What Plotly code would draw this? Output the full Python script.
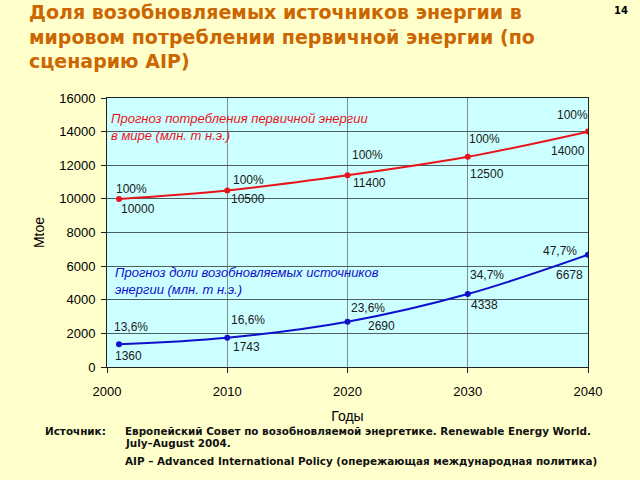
import plotly.graph_objects as go

years = [2001, 2010, 2020, 2030, 2040]
total = [10000, 10500, 11400, 12500, 14000]
renew = [1360, 1743, 2690, 4338, 6678]
total_pct = ["100%", "100%", "100%", "100%", "100%"]
renew_pct = ["13,6%", "16,6%", "23,6%", "34,7%", "47,7%"]
x_ticks = [2000, 2010, 2020, 2030, 2040]
y_ticks = [0, 2000, 4000, 6000, 8000, 10000, 12000, 14000, 16000]

RED = "#E8141B"
BLUE = "#1010CC"
BG = "#FFFFCC"
PLOT_BG = "#CCFFFF"

fig = go.Figure()
fig.add_trace(go.Scatter(x=years, y=total, mode="lines+markers", line=dict(color=RED, width=2, shape="spline"),
                         marker=dict(color=RED, size=6), showlegend=False, hoverinfo="skip"))
fig.add_trace(go.Scatter(x=years, y=renew, mode="lines+markers", line=dict(color=BLUE, width=2, shape="spline"),
                         marker=dict(color=BLUE, size=6), showlegend=False, hoverinfo="skip"))

lab_font = dict(family="Arial, Liberation Sans", size=12, color="#1a1a1a")
# pixel offsets (x, y) of labels relative to data points
tot_pct_off = [(12, 10), (21, 10), (20, 20), (17, 18), (-16, 17)]
tot_val_off = [(19, -10), (21, -9), (22, -8), (19, -17), (-20, -19)]
ren_pct_off = [(12, 17), (21, 18), (20, 14), (19, 19), (-28, 4)]
ren_val_off = [(9, -12), (19, -9), (34, -4), (17, -11), (-19, -20)]
for i, yr in enumerate(years):
    for txt, yv, off in [(total_pct[i], total[i], tot_pct_off[i]), (str(total[i]), total[i], tot_val_off[i]),
                         (renew_pct[i], renew[i], ren_pct_off[i]), (str(renew[i]), renew[i], ren_val_off[i])]:
        fig.add_annotation(x=yr, y=yv, text=txt, showarrow=False, xshift=off[0], yshift=off[1], font=lab_font)

ital = "Arial, Liberation Sans"
fig.add_annotation(xref="paper", yref="paper", x=0.005, y=0.892, xanchor="left", yanchor="middle",
                   text="<i>Прогноз потребления первичной энергии<br>в мире (млн. т н.э.)</i>",
                   showarrow=False, align="left", font=dict(family=ital, size=13, color=RED))
fig.add_annotation(xref="paper", yref="paper", x=0.012, y=0.319, xanchor="left", yanchor="middle",
                   text="<i>Прогноз доли возобновляемых источников<br>энергии (млн. т н.э.)</i>",
                   showarrow=False, align="left", font=dict(family=ital, size=13, color=BLUE))

# Title
fig.add_annotation(xref="paper", yref="paper", x=-0.167, y=1.2268, xanchor="left", yanchor="middle",
                   text="<b>Доля возобновляемых источников энергии в<br>мировом потреблении первичной энергии (по<br>сценарию AIP)</b>",
                   showarrow=False, align="left", font=dict(family="DejaVu Sans", size=19, color="#CC6600"))
fig.add_annotation(xref="paper", yref="paper", x=1.069, y=1.327, xanchor="center", yanchor="middle",
                   text="<b>14</b>", showarrow=False, font=dict(family="DejaVu Sans", size=10, color="#000"))

# footer
foot = dict(family="DejaVu Sans", size=10.4, color="#111")
fig.add_annotation(xref="paper", yref="paper", x=-0.133, y=-0.2379, xanchor="left", yanchor="middle",
                   text="<b>Источник:</b>", showarrow=False, font=foot)
fig.add_annotation(xref="paper", yref="paper", x=0.033, y=-0.2379, xanchor="left", yanchor="middle",
                   text="<b>Европейский Совет по возобновляемой энергетике. Renewable Energy World.</b>",
                   showarrow=False, align="left", font=foot)
fig.add_annotation(xref="paper", yref="paper", x=0.033, y=-0.2825, xanchor="left", yanchor="middle",
                   text="<b>July–August 2004.</b>",
                   showarrow=False, align="left", font=foot)
fig.add_annotation(xref="paper", yref="paper", x=0.033, y=-0.3494, xanchor="left", yanchor="middle",
                   text="<b>AIP – Advanced International Policy (опережающая международная политика)</b>",
                   showarrow=False, align="left", font=foot)

fig.update_layout(
    width=640, height=480,
    margin=dict(l=107, r=52, t=98, b=113),
    paper_bgcolor=BG, plot_bgcolor=PLOT_BG,
    xaxis=dict(range=[2000, 2040], tickvals=x_ticks, tickformat="d", showgrid=True, gridcolor="#7F8F8F", gridwidth=1,
               showline=True, linecolor="#222", linewidth=1, mirror=True, ticks="outside", ticklen=5,
               tickcolor="#222", zeroline=False, automargin=False, ticklabelstandoff=7,
               tickfont=dict(family="Arial, Liberation Sans", size=13, color="#000"),
               title=dict(text="Годы", font=dict(family="Arial, Liberation Sans", size=14, color="#000"), standoff=13)),
    yaxis=dict(range=[0, 16000], tickvals=y_ticks, tickformat="d", showgrid=True, gridcolor="#4F5F5F", gridwidth=1,
               showline=True, linecolor="#222", linewidth=1, mirror=True, ticks="outside", ticklen=5,
               tickcolor="#222", zeroline=False, automargin=False, ticklabelstandoff=3,
               tickfont=dict(family="Arial, Liberation Sans", size=13, color="#000"),
               title=dict(text="Mtoe", font=dict(family="Arial, Liberation Sans", size=14, color="#000"), standoff=11)),
)

fig.write_html("out.html", config={"displayModeBar": False},
               post_script="document.body.style.margin='0';document.body.style.background='#FFFFCC';")
